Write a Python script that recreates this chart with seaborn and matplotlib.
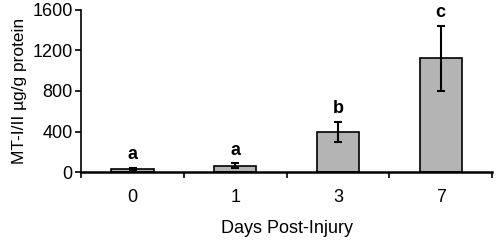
import matplotlib
matplotlib.use("Agg")
import matplotlib.pyplot as plt
import seaborn as sns
import numpy as np

days = ["0", "1", "3", "7"]
means = [30, 62, 395, 1123]
errors = [10, 25, 102, 320]
letters = ["a", "a", "b", "c"]

sns.set_style("white")
plt.rcParams['font.family'] = ['Liberation Sans', 'DejaVu Sans']
plt.rcParams['text.color'] = 'black'
plt.rcParams['axes.labelcolor'] = 'black'
plt.rcParams['xtick.color'] = 'black'
plt.rcParams['ytick.color'] = 'black'

fig = plt.figure(figsize=(4.98, 2.41), dpi=100)
ax = fig.add_axes([0.163, 0.286, 0.825, 0.673])

sns.barplot(x=days, y=means, color="#b4b4b4", edgecolor="black", linewidth=1.2,
            width=0.41, saturation=1, ax=ax)
pos = np.arange(len(days))
ax.errorbar(pos, means, yerr=errors, fmt="none", ecolor="black", elinewidth=1.5,
            capsize=3, capthick=1.5)

for x, m, e, t in zip(pos, means, errors, letters):
    ax.text(x, m + e + 45, t, ha="center", va="bottom", fontsize=13, fontweight="bold")

ax.set_xlim(-0.5, len(days) - 0.5)
ax.set_ylim(0, 1600)
ax.set_yticks([0, 400, 800, 1200, 1600])
ax.set_xticks(np.arange(-0.5, len(days), 1), minor=True)
ax.tick_params(axis="x", which="major", length=0, pad=12, labelsize=13)
ax.tick_params(axis="x", which="minor", length=4, width=1.2, direction="out", bottom=True)
ax.tick_params(axis="y", length=4, width=1.2, direction="out", left=True, labelsize=13, pad=2)

for s in ["top", "right"]:
    ax.spines[s].set_visible(False)
ax.spines["left"].set_linewidth(1.2)
ax.spines["bottom"].set_linewidth(1.8)
ax.spines["left"].set_color("black")
ax.spines["bottom"].set_color("black")

ax.set_ylabel("MT-I/II µg/g protein", fontsize=12.5, labelpad=4)
ax.set_xlabel("Days Post-Injury", fontsize=13, labelpad=10)

fig.savefig("out.png", dpi=100)
